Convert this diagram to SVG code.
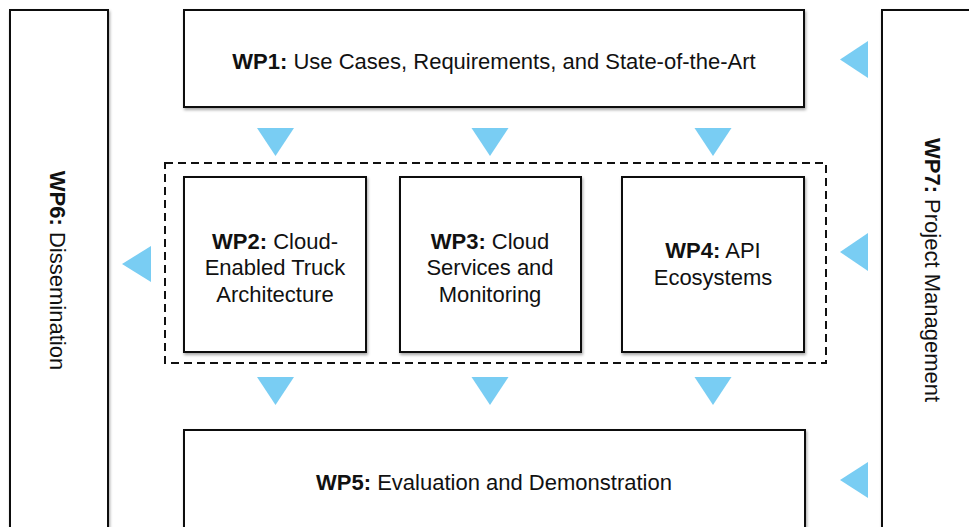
<svg xmlns="http://www.w3.org/2000/svg" width="969" height="527" viewBox="0 0 969 527">
<defs>
<filter id="sh" x="-10%" y="-10%" width="120%" height="130%">
<feDropShadow dx="1" dy="2" stdDeviation="1.5" flood-color="#000" flood-opacity="0.35"/>
</filter>
<style>
.box{fill:#fff;stroke:#111;stroke-width:2;filter:url(#sh)}
.t{font-family:"Liberation Sans",Arial,Helvetica,sans-serif;font-size:22px;fill:#111;text-anchor:middle}
.b{font-weight:bold}
.tri{fill:#79CDF3}
.dash{fill:none;stroke:#111;stroke-width:2;stroke-dasharray:8 5}
</style>
</defs>
<rect width="969" height="527" fill="#fff"/>
<g id="wp6">
<rect class="box" x="10" y="10" width="98" height="530"/>
<text class="t" transform="translate(50,270.5) rotate(90)"><tspan class="b">WP6:</tspan> Dissemination</text>
</g>
<g id="wp7">
<rect class="box" x="882" y="10" width="100" height="530"/>
<text class="t" transform="translate(925,270) rotate(90)"><tspan class="b">WP7:</tspan> Project Management</text>
</g>
<g id="wp1">
<rect class="box" x="184" y="10" width="620" height="97"/>
<text class="t" x="494" y="69"><tspan class="b">WP1:</tspan> Use Cases, Requirements, and State-of-the-Art</text>
</g>
<g id="group234">
<rect class="dash" x="165" y="163" width="661" height="200"/>
</g>
<g id="wp2">
<rect class="box" x="184" y="177" width="182" height="175"/>
<text class="t" x="275" y="249"><tspan class="b">WP2:</tspan> Cloud-</text>
<text class="t" x="275" y="275">Enabled Truck</text>
<text class="t" x="275" y="302">Architecture</text>
</g>
<g id="wp3">
<rect class="box" x="400" y="177" width="181" height="175"/>
<text class="t" x="490" y="249"><tspan class="b">WP3:</tspan> Cloud</text>
<text class="t" x="490" y="275">Services and</text>
<text class="t" x="490" y="302">Monitoring</text>
</g>
<g id="wp4">
<rect class="box" x="622" y="177" width="182" height="175"/>
<text class="t" x="713" y="258"><tspan class="b">WP4:</tspan> API</text>
<text class="t" x="713" y="285">Ecosystems</text>
</g>
<g id="wp5">
<rect class="box" x="184" y="430" width="621" height="110"/>
<text class="t" x="494" y="490"><tspan class="b">WP5:</tspan> Evaluation and Demonstration</text>
</g>
<g id="connectors">
<polygon class="tri" points="257,128 294,128 275.5,156"/>
<polygon class="tri" points="471.5,128 508.5,128 490,156"/>
<polygon class="tri" points="694.5,128 731.5,128 713,156"/>
<polygon class="tri" points="257,377 294,377 275.5,405"/>
<polygon class="tri" points="471.5,377 508.5,377 490,405"/>
<polygon class="tri" points="694.5,377 731.5,377 713,405"/>
<polygon class="tri" points="151,246 151,282 122,264"/>
<polygon class="tri" points="868,41 868,78 840,59.5"/>
<polygon class="tri" points="868,233 868,271 840,252"/>
<polygon class="tri" points="868,462 868,498 840,480"/>
</g>
</svg>
